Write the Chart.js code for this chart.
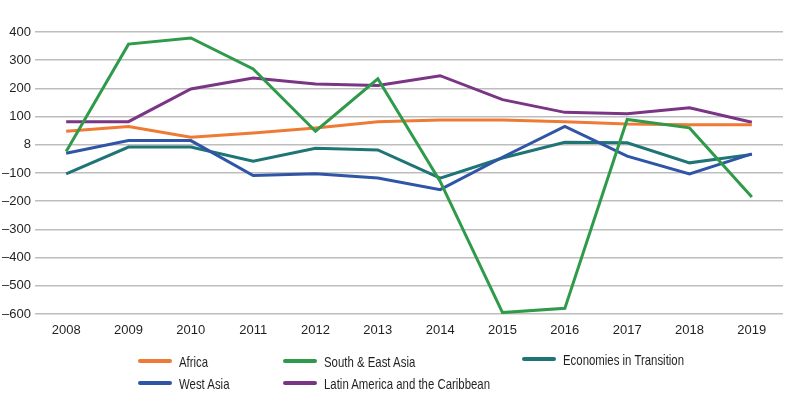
<!DOCTYPE html>
<html>
<head>
<meta charset="utf-8">
<script src="https://cdn.jsdelivr.net/npm/chart.js@4/dist/chart.umd.min.js"></script>
<style>
    html, body { margin: 0; padding: 0; background: #fff; }
    #wrap { position: relative; width: 791px; height: 395px; }
    #legend {
        position: absolute; left: 0; top: 0; width: 791px; height: 395px;
        pointer-events: none;
        font-family: "Liberation Sans", Arial, sans-serif;
        font-size: 15px; color: #231f20;
    }
    .item { position: absolute; display: flex; align-items: center; white-space: nowrap; }
    .swatch { width: 34px; height: 4px; border-radius: 2px; margin-right: 7px; flex: none; }
    .text { display: inline-block; transform: scaleX(0.76); transform-origin: left center; }
</style>
</head>
<body>
<div id="wrap">
    <canvas id="lineChart" width="791" height="395"></canvas>
    <div id="legend"></div>
</div>
<script>
const years = ['2008', '2009', '2010', '2011', '2012', '2013', '2014', '2015', '2016', '2017', '2018', '2019'];

const africa = [48, 65, 27, 42, 60, 82, 88, 88, 82, 74, 71, 71];
const southEastAsia = [-24, 357, 379, 269, 48, 234, -130, -595, -580, 90, 60, -185];
const transition = [-103, -8, -8, -58, -12, -18, -118, -47, 9, 7, -64, -34];
const westAsia = [-30, 15, 15, -109, -103, -118, -159, -44, 65, -40, -103, -32];
const latinAmerica = [82, 82, 198, 237, 216, 210, 245, 160, 115, 110, 131, 80];

// tick labels as printed on the original axis (zero shows as "8")
const yTickLabels = {
    400: '400', 300: '300', 200: '200', 100: '100', 0: '8',
    '-100': '\u2013100', '-200': '\u2013200', '-300': '\u2013300',
    '-400': '\u2013400', '-500': '\u2013500', '-600': '\u2013600'
};

const fontFamily = '"Liberation Sans", Arial, sans-serif';

const series = [
    { label: 'Africa', data: africa, color: '#ee7a35', col: 138, row: 361 },
    { label: 'South & East Asia', data: southEastAsia, color: '#2f9a4a', col: 283, row: 361 },
    { label: 'Economies in Transition', data: transition, color: '#1f7576', col: 522, row: 359 },
    { label: 'West Asia', data: westAsia, color: '#2f56a6', col: 138, row: 383 },
    { label: 'Latin America and the Caribbean', data: latinAmerica, color: '#7a3584', col: 283, row: 383 }
];

// draw order: purple and orange under, green on top
const drawOrder = ['Latin America and the Caribbean', 'Africa', 'Economies in Transition', 'West Asia', 'South & East Asia'];

const ctx = document.getElementById('lineChart').getContext('2d');
const chart = new Chart(ctx, {
    type: 'line',
    data: {
        labels: years,
        datasets: series.map(s => ({
            label: s.label,
            data: s.data,
            borderColor: s.color,
            backgroundColor: s.color,
            borderWidth: 3,
            pointRadius: 0,
            tension: 0,
            fill: false,
            order: drawOrder.length - drawOrder.indexOf(s.label)
        }))
    },
    options: {
        responsive: false,
        animation: false,
        layout: {
            padding: { top: 32, right: 8, bottom: 50, left: 0 }
        },
        plugins: {
            legend: { display: false },
            tooltip: { enabled: false }
        },
        scales: {
            x: {
                offset: true,
                grid: { display: false, drawTicks: false },
                border: { display: false },
                ticks: {
                    color: '#231f20',
                    font: { family: fontFamily, size: 13 },
                    padding: 9,
                    maxRotation: 0,
                    autoSkip: false
                },
                afterFit(scale) { scale.height = 31; }
            },
            y: {
                min: -600,
                max: 400,
                grid: {
                    color: '#bdbdbd',
                    lineWidth: 1.5,
                    drawTicks: false
                },
                border: { display: false },
                ticks: {
                    stepSize: 100,
                    color: '#231f20',
                    font: { family: fontFamily, size: 13 },
                    padding: 4,
                    callback: v => yTickLabels[v]
                },
                afterFit(scale) { scale.width = 35; }
            }
        }
    }
});

// legend laid out in the original's column grid
const legendEl = document.getElementById('legend');
series.forEach(s => {
    const item = document.createElement('div');
    item.className = 'item';
    item.style.left = s.col + 'px';
    item.style.top = (s.row - 9) + 'px';
    item.style.height = '18px';
    item.innerHTML = '<span class="swatch" style="background:' + s.color + '"></span><span class="text">' + s.label + '</span>';
    legendEl.appendChild(item);
});
</script>
</body>
</html>
